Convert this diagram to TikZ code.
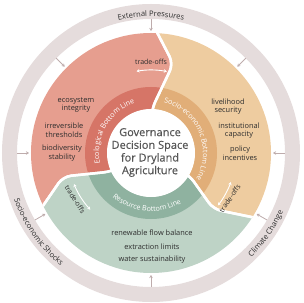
\documentclass[tikz,border=0pt]{standalone}
\usepackage{fontspec}
\setmainfont{Open Sans}
\newfontfamily\corefont[FakeBold=0.3]{Open Sans}
\usetikzlibrary{decorations.text,arrows.meta}
\definecolor{ringc}{RGB}{229,220,220}
\definecolor{arrc}{RGB}{190,172,172}
\definecolor{redr}{RGB}{230,158,143}
\definecolor{redb}{RGB}{214,117,103}
\definecolor{begr}{RGB}{238,204,160}
\definecolor{begb}{RGB}{225,174,120}
\definecolor{grnr}{RGB}{190,211,198}
\definecolor{grnb}{RGB}{143,178,160}
\definecolor{txt}{RGB}{45,45,45}
\definecolor{ctxt}{RGB}{85,85,85}
\newcommand\ringfont{\fontsize{7.6}{9}\selectfont\color{txt}}
\newcommand\bandfont{\fontsize{7.2}{9}\selectfont\color{white}}
\def\pRed{(0,0) -- (89:44) -- (76:92) -- (89:128) arc[start angle=89,end angle=208,radius=128] -- (195:91) -- (205:44) -- cycle}
\def\pGrn{(0,0) -- (205:44) -- (195:91) -- (208:128) arc[start angle=208,end angle=329,radius=128] -- (318:84) -- (330:44) -- cycle}
\def\pBeg{(0,0) -- (330:44) -- (318:84) -- (329:128) arc[start angle=329,end angle=449,radius=128] -- (76:92) -- (89:44) -- cycle}
\begin{document}
\begin{tikzpicture}[x=1pt,y=1pt,
  lbl/.style={text=txt, font=\fontsize{7.4}{8.8}\selectfont, align=center, inner sep=0pt},
  ringarrow/.style={draw=arrc, line width=0.8pt, -{Stealth[length=3pt,width=3.5pt]}},
  tradearrow/.style={draw=white, line width=0.9pt, {Stealth[length=3pt,width=3.5pt]}-{Stealth[length=3pt,width=3.5pt]}},
  tradelbl/.style={text=txt, font=\fontsize{7}{8}\selectfont, inner sep=0pt},
  divider/.style={draw=white, line width=2.5pt, rounded corners=8pt},
  sector/.style={rounded corners=8pt},
]
\useasboundingbox (-151,-149) rectangle (153,153);
% outer ring
\fill[ringc, even odd rule] (0,0) circle (149) (0,0) circle (134);
% sectors
\begin{scope}
  \clip (0,0) circle (120);
  \fill[redr, sector] \pRed;
  \fill[grnr, sector] \pGrn;
  \fill[begr, sector] \pBeg;
  \begin{scope}\clip[sector] \pRed; \fill[redb, even odd rule] (0,0) circle (66) (0,0) circle (44);\end{scope}
  \begin{scope}\clip[sector] \pGrn; \fill[grnb, even odd rule] (0,0) circle (66) (0,0) circle (44);\end{scope}
  \begin{scope}\clip[sector] \pBeg; \fill[begb, even odd rule] (0,0) circle (66) (0,0) circle (44);\end{scope}
  \draw[divider] \pRed;
  \draw[divider] \pGrn;
  \draw[divider] \pBeg;
\end{scope}
\fill[white] (0,0) circle (44);
% ring arrows
\foreach \a [count=\i] in {0,45,90,135,180,210,270,330}{
  \coordinate (ra\i) at (\a:134);
  \coordinate (rb\i) at (\a:122);
  \draw[ringarrow] (ra\i) -- (rb\i);
}
% ring labels
\path[decorate, decoration={text along path, text align=center, text={|\ringfont|External Pressures}}]
  (170:136.5) arc[start angle=170,end angle=10,radius=136.5];
\path[decorate, decoration={text along path, text align=center, text={|\ringfont|Socio-economic Shocks}}]
  (165:144.5) arc[start angle=165,end angle=265,radius=144.5];
\path[decorate, decoration={text along path, text align=center, text={|\ringfont|Climate Change}}]
  (275:144.5) arc[start angle=275,end angle=375,radius=144.5];
% band labels
\path[decorate, decoration={text along path, text align=center, text={|\bandfont|Ecological Bottom Line}}]
  (240:52) arc[start angle=240,end angle=60,radius=52];
\path[decorate, decoration={text along path, text align=center, text={|\bandfont|Socio-economic Bottom Line}}]
  (113:52) arc[start angle=113,end angle=-67,radius=52];
\path[decorate, decoration={text along path, text align=center, text={|\bandfont|Resource Bottom Line}}]
  (175:58.5) arc[start angle=175,end angle=355,radius=58.5];
% trade-offs
\coordinate (t1a) at (100:83);
\draw[tradearrow] (t1a) arc[start angle=100,end angle=79,radius=83];
\coordinate (t2a) at (202:83);
\draw[tradearrow] (t2a) arc[start angle=202,end angle=223,radius=83];
\coordinate (t3a) at (322:85);
\draw[tradearrow] (t3a) arc[start angle=322,end angle=340,radius=85];
\node[tradelbl] (to1) at (90:91) {trade-offs};
\node[tradelbl, rotate=-58] (to2) at (211.5:89) {trade-offs};
\node[tradelbl, rotate=56] (to3) at (330:91) {trade-offs};
% sector labels
\node[lbl] (eco1) at (-75,48) {ecosystem\\integrity};
\node[lbl] (eco2) at (-87,23) {irreversible\\thresholds};
\node[lbl] (eco3) at (-89,0) {biodiversity\\stability};
\node[lbl] (soc1) at (77,46.5) {livelihood\\security};
\node[lbl] (soc2) at (88,22.5) {institutional\\capacity};
\node[lbl] (soc3) at (89,0) {policy\\incentives};
\node[lbl] (res1) at (1,-80) {renewable flow balance};
\node[lbl] (res2) at (1,-94) {extraction limits};
\node[lbl] (res3) at (1,-107) {water sustainability};
% center
\node[font=\corefont\fontsize{11}{12.7}\selectfont, text=ctxt, align=center, inner sep=0pt] (core) at (-1,0.5)
  {Governance\\Decision Space\\for Dryland\\Agriculture};
\end{tikzpicture}
\end{document}
